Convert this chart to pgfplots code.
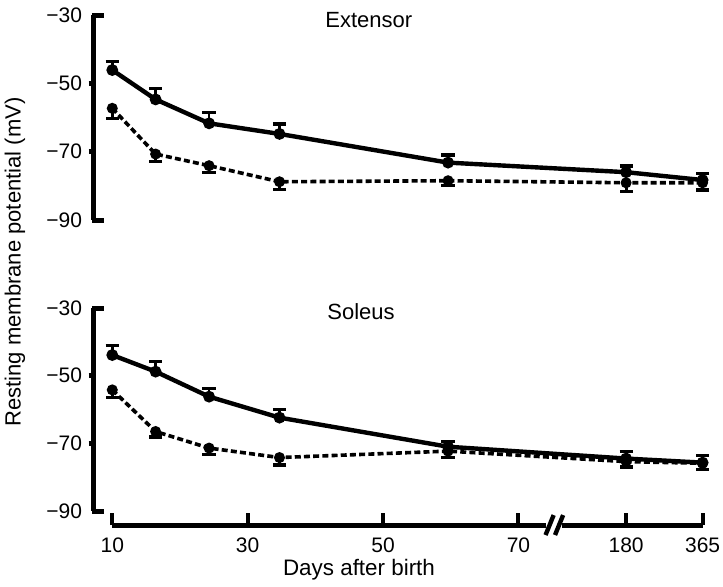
\documentclass[border=0pt]{standalone}
\usepackage{fontspec}
\setmainfont{Liberation Sans}
\usepackage{pgfplots}
\pgfplotsset{compat=1.18}
\pgfplotsset{
  panel/.style={
    scale only axis, clip=false,
    width=307pt,
    xmin=7.3, xmax=98,
    axis lines*=left, axis line style={draw=none},
    ytick={-30,-50,-70,-90},
    yticklabels={−30,−50,−70,−90},
    ytick style={draw=none},
    yticklabel style={anchor=east, xshift=-2.5pt, font=\fontsize{10.5}{12}\selectfont},
    xticklabel style={yshift=-3pt, font=\fontsize{10.5}{12}\selectfont},
    tick align=inside, major tick length=6pt,
    xtick style={black, line width=2pt},
  },
  solidser/.style={black, line width=2.2pt, mark=*, mark size=1.8pt,
    error bars/.cd, y dir=plus, y explicit,
    error bar style={line width=1.4pt, solid},
    error mark options={rotate=90, mark size=3.3pt, line width=1.6pt, solid}},
  dashser/.style={black, line width=1.8pt, dash pattern=on 3pt off 1.6pt, mark=*, mark size=1.8pt, mark options={solid},
    error bars/.cd, y dir=minus, y explicit,
    error bar style={line width=1.4pt, solid},
    error mark options={rotate=90, mark size=3.3pt, line width=1.6pt, solid}},
}
\begin{document}
\begin{tikzpicture}
\useasboundingbox (0,0) rectangle (361.5pt,-293pt);
% upper panel: Extensor
\begin{axis}[panel, at={(47pt,-110pt)}, anchor=south west,
  height=102.5pt, ymin=-90, ymax=-30, xtick=\empty]
  \draw[line width=2.5pt] (axis cs:7.3,-30) -- (axis cs:7.3,-90);
  \draw[line width=2.5pt] (axis cs:7.0,-30) -- (axis cs:8.8,-30);
  \draw[line width=2.5pt] (axis cs:7.0,-90) -- (axis cs:8.8,-90);
  \draw[line width=2.5pt] (axis cs:6.5,-50) -- (axis cs:7.3,-50);
  \draw[line width=2.5pt] (axis cs:6.5,-70) -- (axis cs:7.3,-70);
  \addplot[solidser] coordinates {
    (10,-46.1) +- (0,2.6)
    (16.4,-54.7) +- (0,3.2)
    (24.3,-61.7) +- (0,3.1)
    (34.7,-64.8) +- (0,2.9)
    (59.6,-73.2) +- (0,2.2)
    (85.9,-76.0) +- (0,1.8)
    (97.2,-78.3) +- (0,1.8)
  };
  \addplot[dashser] coordinates {
    (10,-57.3) +- (0,3.1)
    (16.4,-70.7) +- (0,2.2)
    (24.3,-74.1) +- (0,2.0)
    (34.7,-78.8) +- (0,2.2)
    (59.6,-78.5) +- (0,1.5)
    (85.9,-79.1) +- (0,2.6)
    (97.2,-79.1) +- (0,2.1)
  };
\end{axis}
% lower panel: Soleus
\begin{axis}[panel, at={(47pt,-262.5pt)}, anchor=south west,
  height=108.5pt, ymin=-94.14, ymax=-30,
  xtick={10,30,50,70,85.9,97.2},
  xticklabels={10,30,50,70,180,365}]
  \draw[line width=2.5pt] (axis cs:7.3,-30) -- (axis cs:7.3,-90);
  \draw[line width=2.5pt] (axis cs:7.0,-30) -- (axis cs:8.8,-30);
  \draw[line width=2.5pt] (axis cs:7.0,-90) -- (axis cs:8.8,-90);
  \draw[line width=2.5pt] (axis cs:6.5,-50) -- (axis cs:7.3,-50);
  \draw[line width=2.5pt] (axis cs:6.5,-70) -- (axis cs:7.3,-70);
  \draw[line width=2.5pt] (axis cs:10,-94.14) -- (axis cs:74.0,-94.14);
  \draw[line width=2.5pt] (axis cs:76.5,-94.14) -- (axis cs:97.2,-94.14);
  \draw[line width=2.2pt] (axis cs:74.0,-97.1) -- (axis cs:75.2,-91.2);
  \draw[line width=2.2pt] (axis cs:75.4,-97.1) -- (axis cs:76.6,-91.2);
  \addplot[solidser] coordinates {
    (10,-43.9) +- (0,2.8)
    (16.4,-48.8) +- (0,2.9)
    (24.3,-56.2) +- (0,2.3)
    (34.7,-62.4) +- (0,2.5)
    (59.6,-71.0) +- (0,1.6)
    (85.9,-74.5) +- (0,2.0)
    (97.2,-75.7) +- (0,2.1)
  };
  \addplot[dashser] coordinates {
    (10,-54.2) +- (0,2.2)
    (16.4,-66.5) +- (0,1.6)
    (24.3,-71.4) +- (0,2.0)
    (34.7,-74.2) +- (0,2.2)
    (59.6,-72.3) +- (0,1.9)
    (85.9,-75.4) +- (0,1.6)
    (97.2,-75.9) +- (0,1.9)
  };
\end{axis}
\node[rotate=90, font=\fontsize{11}{13}\selectfont] at (7.5pt,-131pt) {Resting membrane potential (mV)};
\node[font=\fontsize{11.2}{13}\selectfont] at (179.5pt,-285pt) {Days after birth};
\node[anchor=west, inner sep=0pt, font=\fontsize{11}{13}\selectfont] at (162.5pt,-10pt) {Extensor};
\node[anchor=west, inner sep=0pt, font=\fontsize{11}{13}\selectfont] at (163.5pt,-156pt) {Soleus};
\end{tikzpicture}
\end{document}
